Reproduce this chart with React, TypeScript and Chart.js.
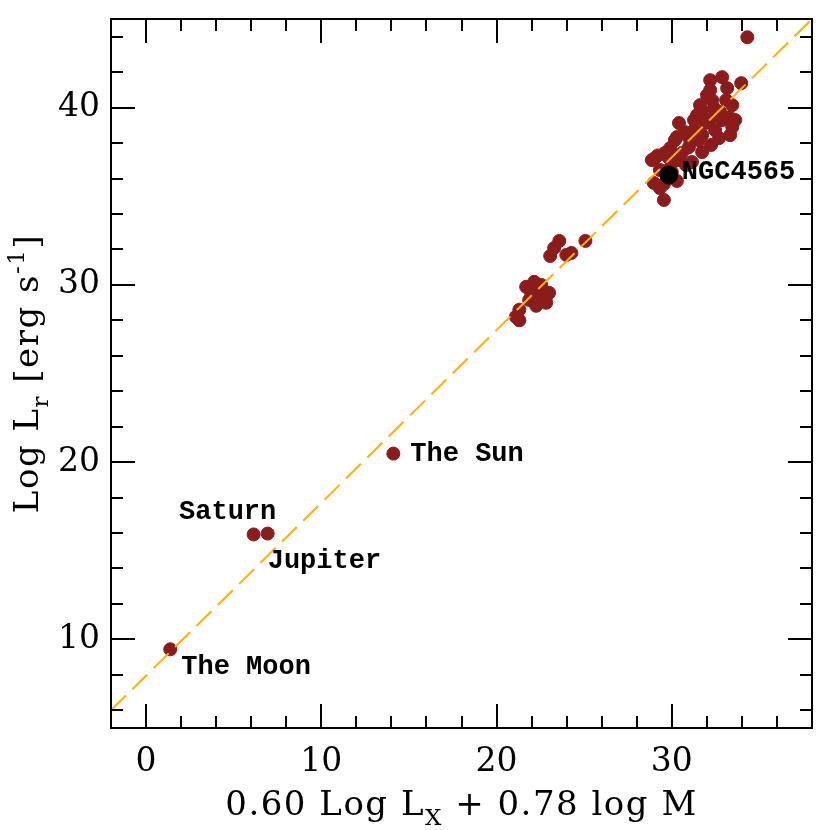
import React, { useEffect, useRef } from 'react';
import { Chart, registerables } from 'chart.js';

Chart.register(...registerables);

// ---- data ----
const planetNames = ['The Moon', 'Saturn', 'Jupiter', 'The Sun'];
const planetX = [1.38, 6.14, 6.94, 14.11];
const planetY = [9.44, 15.92, 15.97, 20.48];

const ngcName = ['NGC4565'];
const ngcX = [29.83];
const ngcY = [36.2];

const sampleX = [
  21.1, 21.3, 21.3, 21.69, 22.15, 22.55, 23.0, 22.83, 22.26, 21.86, 21.97, 22.37, 22.2, 22.8,
  23.06, 23.29, 23.58, 23.98, 24.27, 25.07,
  34.31, 32.87, 32.19, 33.16, 33.96, 32.19, 32.3, 33.45, 33.28, 31.73, 31.44, 32.87, 33.45,
  32.47, 31.9, 30.41, 30.29, 31.27, 31.55, 30.98, 30.18, 31.73, 32.7, 30.58, 29.6, 29.03,
  31.15, 29.91, 28.97, 29.32, 30.29, 29.55, 28.86, 29.2, 29.8, 30.35, 30.81, 31.04, 31.27,
  31.61, 32.01, 32.41, 32.76, 33.1, 33.62, 33.33, 32.24, 31.73, 30.75, 29.91, 29.32, 30.0,
  29.55, 32.19,
];
const sampleY = [
  28.2, 28.6, 28.0, 29.89, 30.17, 30.0, 29.55, 28.99, 28.82, 29.15, 29.55, 29.38, 30.1, 29.2,
  31.63, 32.08, 32.48, 31.69, 31.8, 32.48,
  43.97, 41.72, 41.55, 41.1, 41.38, 40.99, 40.42, 40.14, 39.46, 39.86, 39.58, 39.3, 38.9,
  38.73, 39.13, 39.13, 38.34, 38.73, 38.17, 37.77, 38.17, 38.45, 38.28, 37.44, 37.44, 37.15,
  36.93, 36.6, 35.75, 35.46, 35.86, 34.79, 37.04, 37.3, 37.2, 37.04, 36.76, 38.17, 39.3,
  40.14, 40.7, 39.97, 39.75, 40.42, 39.3, 38.45, 37.89, 37.49, 38.62, 37.72, 36.48, 36.36,
  35.69, 39.35,
];

const fitX = [-2, 38];
const fitY = [6.0, 45.0];

const xMajorTicks = [0, 10, 20, 30];
const yMajorTicks = [10, 20, 30, 40];
const minorStep = 2;

const AXIS_FONT = '"DejaVu Serif", serif';
const LABEL_FONT = 'bold 27px "Liberation Mono", monospace';

const labelOffsets: Record<string, [number, number, CanvasTextAlign]> = {
  'The Moon': [11, 18, 'left'],
  Saturn: [-26, -22, 'center'],
  Jupiter: [0, 28, 'left'],
  'The Sun': [17, 1, 'left'],
  NGC4565: [13, -3, 'left'],
};

function drawRich(ctx: any, parts: [string, number][], size: number, cx: number, cy: number, spacing: number) {
  // parts: [text, shift] shift 0 normal, 1 superscript, -1 subscript
  const small = Math.round(size * 0.68);
  ctx.letterSpacing = `${spacing}px`;
  let total = 0;
  const widths = parts.map(([t, s]) => {
    ctx.font = `${s === 0 ? size : small}px ${AXIS_FONT}`;
    const w = ctx.measureText(t).width;
    total += w;
    return w;
  });
  let x = cx - total / 2;
  ctx.textAlign = 'left';
  ctx.textBaseline = 'alphabetic';
  parts.forEach(([t, s], i) => {
    ctx.font = `${s === 0 ? size : small}px ${AXIS_FONT}`;
    const dy = s === 0 ? 0 : s > 0 ? -size * 0.42 : size * 0.28;
    ctx.fillText(t, x, cy + dy);
    x += widths[i];
  });
  ctx.letterSpacing = '0px';
}

const decorPlugin = {
  id: 'decor',
  afterDraw(chart: any) {
    const { ctx, chartArea: a, scales } = chart;
    const xs = scales.x;
    const ys = scales.y;
    ctx.save();
    ctx.strokeStyle = '#000';
    ctx.lineWidth = 2;
    ctx.strokeRect(a.left, a.top, a.right - a.left, a.bottom - a.top);
    ctx.beginPath();
    for (let v = xs.min; v <= xs.max + 1e-9; v += minorStep) {
      const px = Math.round(xs.getPixelForValue(v));
      const len = xMajorTicks.includes(v) ? 24 : 12;
      ctx.moveTo(px, a.bottom);
      ctx.lineTo(px, a.bottom - len);
      ctx.moveTo(px, a.top);
      ctx.lineTo(px, a.top + len);
    }
    for (let v = Math.ceil(ys.min / minorStep) * minorStep; v <= ys.max + 1e-9; v += minorStep) {
      const py = Math.round(ys.getPixelForValue(v));
      const len = yMajorTicks.includes(v) ? 24 : 12;
      ctx.moveTo(a.left, py);
      ctx.lineTo(a.left + len, py);
      ctx.moveTo(a.right, py);
      ctx.lineTo(a.right - len, py);
    }
    ctx.stroke();

    // point labels
    ctx.fillStyle = '#000';
    ctx.font = LABEL_FONT;
    ctx.textBaseline = 'middle';
    const labelled: [string, number, number][] = [
      ...planetNames.map((n, i) => [n, planetX[i], planetY[i]] as [string, number, number]),
      ...ngcName.map((n, i) => [n, ngcX[i], ngcY[i]] as [string, number, number]),
    ];
    labelled.forEach(([n, x, y]) => {
      const [dx, dy, al] = labelOffsets[n];
      ctx.textAlign = al;
      ctx.fillText(n, xs.getPixelForValue(x) + dx, ys.getPixelForValue(y) + dy);
    });

    // axis titles
    ctx.fillStyle = '#000';
    drawRich(ctx, [['0.60 Log L', 0], ['X', -1], [' + 0.78 log M', 0]], 34, (a.left + a.right) / 2, 815, 1.5);
    ctx.save();
    ctx.translate(38, (a.top + a.bottom) / 2);
    ctx.rotate(-Math.PI / 2);
    drawRich(ctx, [['Log L', 0], ['r', -1], [' [erg s', 0], ['-1', 1], [']', 0]], 34, 0, 0, 1.5);
    ctx.restore();
    ctx.restore();
  },
};

export default function App() {
  const ref = useRef<HTMLCanvasElement | null>(null);
  useEffect(() => {
    document.body.style.margin = '0';
    const canvas = ref.current!;
    const toPts = (xa: number[], ya: number[]) => xa.map((x, i) => ({ x, y: ya[i] }));
    const chart = new Chart(canvas, {
      type: 'scatter',
      data: {
        datasets: [
          {
            label: 'NGC4565',
            data: toPts(ngcX, ngcY),
            backgroundColor: '#000',
            borderColor: '#000',
            pointRadius: 9,
            order: 0,
          },
          {
            type: 'line',
            label: 'fit',
            data: toPts(fitX, fitY),
            borderColor: '#ffb000',
            borderWidth: 2,
            borderDash: [21, 9],
            pointRadius: 0,
            fill: false,
            order: 1,
          } as any,
          {
            label: 'planets',
            data: toPts(planetX, planetY),
            backgroundColor: '#8c1c1c',
            borderColor: '#8c1c1c',
            pointRadius: 6.5,
            order: 2,
          },
          {
            label: 'sample',
            data: toPts(sampleX, sampleY),
            backgroundColor: '#8c1c1c',
            borderColor: '#8c1c1c',
            pointRadius: 6.5,
            order: 3,
          },
        ],
      },
      options: {
        animation: false,
        responsive: false,
        maintainAspectRatio: false,
        layout: { padding: { top: 19, right: 18, left: 0, bottom: 0 } },
        plugins: { legend: { display: false }, tooltip: { enabled: false } },
        scales: {
          x: {
            type: 'linear',
            min: -2,
            max: 38,
            grid: { display: false, drawTicks: false },
            border: { display: false },
            afterBuildTicks: (s: any) => {
              s.ticks = xMajorTicks.map((v) => ({ value: v }));
            },
            afterFit: (s: any) => {
              s.height = 102;
              s.paddingLeft = 0;
              s.paddingRight = 0;
            },
            ticks: {
              padding: 15,
              color: '#000',
              font: { family: AXIS_FONT, size: 33 },
              callback: (v: any) => String(v),
              maxRotation: 0,
            },
          },
          y: {
            type: 'linear',
            min: 5,
            max: 45,
            grid: { display: false, drawTicks: false },
            border: { display: false },
            afterBuildTicks: (s: any) => {
              s.ticks = yMajorTicks.map((v) => ({ value: v }));
            },
            afterFit: (s: any) => {
              s.width = 111;
              s.paddingTop = 0;
              s.paddingBottom = 0;
            },
            ticks: {
              padding: 11,
              color: '#000',
              font: { family: AXIS_FONT, size: 33 },
              callback: (v: any) => String(v),
            },
          },
        },
      },
      plugins: [decorPlugin],
    });
    return () => chart.destroy();
  }, []);
  return <canvas ref={ref} width={830} height={830} style={{ display: 'block' }} />;
}
